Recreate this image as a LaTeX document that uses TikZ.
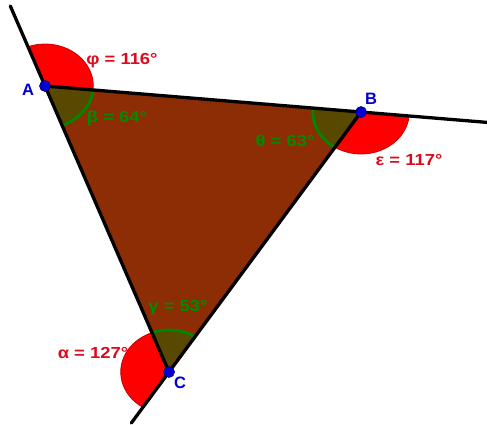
\documentclass[tikz,border=0pt]{standalone}
\usepackage{fontspec}
\setmainfont{Liberation Sans}
\usepackage{graphicx}
\definecolor{tribrown}{RGB}{140,45,5}
\definecolor{olivefill}{RGB}{88,72,0}
\definecolor{arcgreen}{RGB}{0,135,0}
\definecolor{extred}{RGB}{255,0,0}
\definecolor{arcred}{RGB}{200,0,0}
\definecolor{labred}{RGB}{220,10,30}
\definecolor{labgreen}{RGB}{0,140,0}
\definecolor{ptblue}{RGB}{0,0,210}
\tikzset{
  seg/.style={line width=3.3pt, line cap=round},
  extsec/.style={fill=extred, draw=arcred, line width=0.8pt},
  intsec/.style={fill=olivefill},
  intarc/.style={draw=arcgreen, line width=2.8pt},
  pt/.style={circle, fill=ptblue, draw=ptblue!50!black, line width=0.6pt, minimum size=11pt, inner sep=0pt},
  ptlab/.style={text=ptblue, font=\fontsize{16.5}{19}\selectfont\bfseries},
  redlab/.style={text=labred, font=\fontsize{16}{19}\selectfont\bfseries},
  greenlab/.style={text=labgreen, font=\fontsize{16}{19}\selectfont\bfseries}
}
\begin{document}
\begin{tikzpicture}[x=1pt,y=-1pt]
\useasboundingbox (0,0) rectangle (487,425);
\begin{scope}[xscale=1.15]
  \coordinate (A) at (39.13,86);
  \coordinate (B) at (313.91,112);
  \coordinate (C) at (146.96,372);
  \coordinate (Ae) at (8.97,6);
  \coordinate (Be) at (423.48,122.4);
  \coordinate (Ce) at (114.2,423);
  % triangle
  \fill[tribrown] (A) -- (B) -- (C) -- cycle;
  % exterior sectors
  \path[extsec] (A) -- ++(5.405:42) arc[start angle=5.405, end angle=-110.66, radius=42] -- cycle;
  \path[extsec] (B) -- ++(5.405:42) arc[start angle=5.405, end angle=122.71, radius=42] -- cycle;
  \path[extsec] (C) -- ++(122.71:42) arc[start angle=122.71, end angle=249.34, radius=42] -- cycle;
  % interior sectors
  \fill[intsec] (A) -- ++(5.405:42) arc[start angle=5.405, end angle=69.34, radius=42] -- cycle;
  \fill[intsec] (B) -- ++(122.71:42) arc[start angle=122.71, end angle=185.405, radius=42] -- cycle;
  \fill[intsec] (C) -- ++(-110.66:42) arc[start angle=-110.66, end angle=-57.29, radius=42] -- cycle;
  \draw[intarc] (A) ++(5.405:42) arc[start angle=5.405, end angle=69.34, radius=42];
  \draw[intarc] (B) ++(122.71:42) arc[start angle=122.71, end angle=185.405, radius=42];
  \draw[intarc] (C) ++(-110.66:42) arc[start angle=-110.66, end angle=-57.29, radius=42];
  % lines
  \draw[seg] (A) -- (Be);
  \draw[seg] (C) -- (Ae);
  \draw[seg] (B) -- (Ce);
  % points
  \node[pt] (pA) at (A) {};
  \node[pt] (pB) at (B) {};
  \node[pt] (pC) at (C) {};
\end{scope}
% labels (pixel coordinates)
\node[ptlab] (lA) at (28,90) {A};
\node[ptlab] (lB) at (371,99) {B};
\node[ptlab] (lC) at (180,383) {C};
\node[redlab] (phi) at (122,61) {\scalebox{1.15}[1]{φ = 116°}};
\node[greenlab] (beta) at (117,118) {\scalebox{1.15}[1]{β = 64°}};
\node[greenlab] (theta) at (285,141) {\scalebox{1.15}[1]{θ = 63°}};
\node[redlab] (eps) at (409,160) {\scalebox{1.15}[1]{ε = 117°}};
\node[greenlab] (gam) at (178,308) {\scalebox{1.15}[1]{γ = 53°}};
\node[redlab] (alp) at (93,353) {\scalebox{1.15}[1]{α = 127°}};
\end{tikzpicture}
\end{document}
